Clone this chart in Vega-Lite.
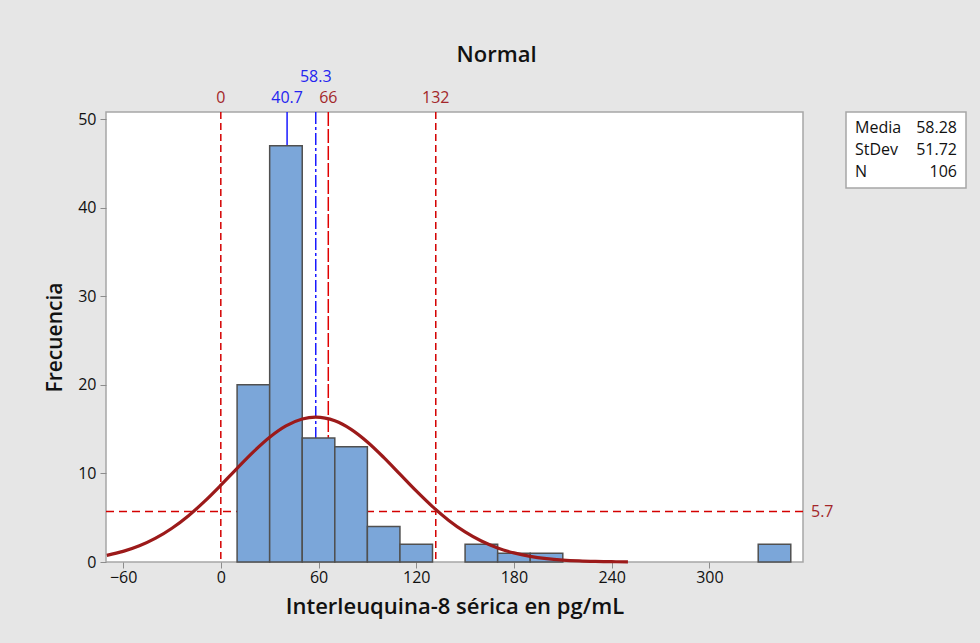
{
  "$schema": "https://vega.github.io/schema/vega-lite/v6.json",
  "background": "#e6e6e6",
  "autosize": {"type": "none"},
  "padding": {"left": 106, "top": 112, "right": 874, "bottom": 531},
  "bounds": "flush",
  "spacing": 43,
  "config": {
    "font": "Open Sans",
    "view": {"stroke": "#a6a6a6", "strokeWidth": 1.5, "fill": "white"},
    "axis": {
      "labelFont": "Open Sans", "labelFontSize": 16, "labelColor": "#111",
      "tickColor": "#8c8c8c", "tickSize": 6, "domain": false, "grid": false,
      "titleFont": "Open Sans", "titleFontSize": 21, "titleFontWeight": 600, "titleColor": "#111"
    }
  },
  "hconcat": [
    {
      "width": 697,
      "height": 450,
      "title": {"text": "Normal", "fontSize": 22, "fontWeight": 600, "dx": 42, "offset": 2, "color": "#111", "font": "Open Sans"},
      "layer": [
        {
          "data": {"values": [{"limit": 0}, {"limit": 132}]},
          "mark": {"type": "rule", "color": "#d40000", "strokeWidth": 1.5, "strokeDash": [7, 4]},
          "encoding": {
            "x": {"field": "limit", "type": "quantitative",
              "scale": {"domain": [-70.5, 357.5], "nice": false, "zero": false, "padding": 0},
              "axis": {"values": [-60, 0, 60, 120, 180, 240, 300], "title": "Interleuquina-8 sérica en pg/mL", "labelPadding": 1, "titlePadding": 11, "titleFontSize": 22}}
          }
        },
        {
          "data": {"values": [{"level": 5.7}]},
          "mark": {"type": "rule", "color": "#d40000", "strokeWidth": 1.5, "strokeDash": [8, 5]},
          "encoding": {
            "y": {"field": "level", "type": "quantitative",
              "scale": {"domain": [0, 50.8], "nice": false, "zero": true, "padding": 0},
              "axis": {"values": [0, 10, 20, 30, 40, 50], "title": "Frecuencia", "labelPadding": 4, "titlePadding": 12}}
          }
        },
        {
          "data": {"values": [{"target": 66}]},
          "mark": {"type": "rule", "color": "#e00000", "strokeWidth": 1.5, "strokeDash": [14, 3]},
          "encoding": {"x": {"field": "target", "type": "quantitative", "scale": {"domain": [-70.5, 357.5], "nice": false, "zero": false, "padding": 0}}}
        },
        {
          "data": {"values": [{"stat": 40.7}]},
          "mark": {"type": "rule", "color": "#1a1aff", "strokeWidth": 1.5},
          "encoding": {"x": {"field": "stat", "type": "quantitative", "scale": {"domain": [-70.5, 357.5], "nice": false, "zero": false, "padding": 0}}}
        },
        {
          "data": {"values": [{"stat": 58.3}]},
          "mark": {"type": "rule", "color": "#1a1aff", "strokeWidth": 1.5, "strokeDash": [12, 3, 3, 3]},
          "encoding": {"x": {"field": "stat", "type": "quantitative", "scale": {"domain": [-70.5, 357.5], "nice": false, "zero": false, "padding": 0}}}
        },
        {
          "data": {"values": [
            {"bin_start": 10, "bin_end": 30, "count": 20},
            {"bin_start": 30, "bin_end": 50, "count": 47},
            {"bin_start": 50, "bin_end": 70, "count": 14},
            {"bin_start": 70, "bin_end": 90, "count": 13},
            {"bin_start": 90, "bin_end": 110, "count": 4},
            {"bin_start": 110, "bin_end": 130, "count": 2},
            {"bin_start": 150, "bin_end": 170, "count": 2},
            {"bin_start": 170, "bin_end": 190, "count": 1},
            {"bin_start": 190, "bin_end": 210, "count": 1},
            {"bin_start": 330, "bin_end": 350, "count": 2}
          ]},
          "mark": {"type": "rect", "fill": "#7ba6d9", "stroke": "#505050", "strokeWidth": 1.5},
          "encoding": {
            "x": {"field": "bin_start", "type": "quantitative", "scale": {"domain": [-70.5, 357.5], "nice": false, "zero": false, "padding": 0}},
            "x2": {"field": "bin_end"},
            "y": {"field": "count", "type": "quantitative", "scale": {"domain": [0, 50.8], "nice": false, "zero": true, "padding": 0}},
            "y2": {"datum": 0}
          }
        },
        {
          "data": {"values": [
            {"x": -70, "density": 0.755}, {"x": -60, "density": 1.197}, {"x": -50, "density": 1.827},
            {"x": -40, "density": 2.688}, {"x": -30, "density": 3.810}, {"x": -20, "density": 5.201},
            {"x": -10, "density": 6.841}, {"x": 0, "density": 8.666}, {"x": 10, "density": 10.576},
            {"x": 20, "density": 12.433}, {"x": 30, "density": 14.081}, {"x": 40, "density": 15.361},
            {"x": 50, "density": 16.143}, {"x": 58.28, "density": 16.351}, {"x": 70, "density": 15.937},
            {"x": 80, "density": 14.971}, {"x": 90, "density": 13.548}, {"x": 100, "density": 11.810},
            {"x": 110, "density": 9.917}, {"x": 120, "density": 8.022}, {"x": 130, "density": 6.252},
            {"x": 140, "density": 4.693}, {"x": 150, "density": 3.394}, {"x": 160, "density": 2.364},
            {"x": 170, "density": 1.586}, {"x": 180, "density": 1.025}, {"x": 190, "density": 0.638},
            {"x": 200, "density": 0.383}, {"x": 210, "density": 0.221}, {"x": 220, "density": 0.123},
            {"x": 230, "density": 0.066}, {"x": 240, "density": 0.034}, {"x": 250, "density": 0.017}
          ]},
          "mark": {"type": "line", "color": "#9c1a1a", "strokeWidth": 3.2, "interpolate": "monotone"},
          "encoding": {
            "x": {"field": "x", "type": "quantitative", "scale": {"domain": [-70.5, 357.5], "nice": false, "zero": false, "padding": 0}},
            "y": {"field": "density", "type": "quantitative", "scale": {"domain": [0, 50.8], "nice": false, "zero": true, "padding": 0}}
          }
        },
        {
          "data": {"values": [{"x": 0, "label": "0"}, {"x": 66, "label": "66"}, {"x": 132, "label": "132"}]},
          "mark": {"type": "text", "color": "#a3262a", "fontSize": 16, "baseline": "middle", "align": "center"},
          "encoding": {
            "x": {"field": "x", "type": "quantitative", "scale": {"domain": [-70.5, 357.5], "nice": false, "zero": false, "padding": 0}},
            "y": {"datum": 52.4, "type": "quantitative", "scale": {"domain": [0, 50.8], "nice": false, "zero": true, "padding": 0}},
            "text": {"field": "label"}
          }
        },
        {
          "data": {"values": [{"x": 40.7, "label": "40.7"}]},
          "mark": {"type": "text", "color": "#2424f0", "fontSize": 16, "baseline": "middle", "align": "center"},
          "encoding": {
            "x": {"field": "x", "type": "quantitative", "scale": {"domain": [-70.5, 357.5], "nice": false, "zero": false, "padding": 0}},
            "y": {"datum": 52.4, "type": "quantitative", "scale": {"domain": [0, 50.8], "nice": false, "zero": true, "padding": 0}},
            "text": {"field": "label"}
          }
        },
        {
          "data": {"values": [{"x": 58.3, "label": "58.3"}]},
          "mark": {"type": "text", "color": "#2424f0", "fontSize": 16, "baseline": "middle", "align": "center"},
          "encoding": {
            "x": {"field": "x", "type": "quantitative", "scale": {"domain": [-70.5, 357.5], "nice": false, "zero": false, "padding": 0}},
            "y": {"datum": 54.75, "type": "quantitative", "scale": {"domain": [0, 50.8], "nice": false, "zero": true, "padding": 0}},
            "text": {"field": "label"}
          }
        },
        {
          "data": {"values": [{"level": 5.7, "label": "5.7"}]},
          "mark": {"type": "text", "color": "#a3262a", "fontSize": 16, "baseline": "middle", "align": "left", "dx": 8},
          "encoding": {
            "x": {"datum": 357.5, "type": "quantitative", "scale": {"domain": [-70.5, 357.5], "nice": false, "zero": false, "padding": 0}},
            "y": {"field": "level", "type": "quantitative", "scale": {"domain": [0, 50.8], "nice": false, "zero": true, "padding": 0}},
            "text": {"field": "label"}
          }
        }
      ]
    },
    {
      "width": 120,
      "height": 76,
      "data": {"values": [
        {"label": "Media", "value": "58.28"},
        {"label": "StDev", "value": "51.72"},
        {"label": "N", "value": "106"}
      ]},
      "layer": [
        {
          "mark": {"type": "text", "align": "left", "baseline": "middle", "fontSize": 16, "color": "#111", "dx": 9},
          "encoding": {
            "x": {"datum": 0, "type": "quantitative", "scale": {"domain": [0, 1]}, "axis": null},
            "y": {"field": "label", "type": "nominal", "sort": null, "scale": {"type": "point", "padding": 0.73}, "axis": null},
            "text": {"field": "label"}
          }
        },
        {
          "mark": {"type": "text", "align": "right", "baseline": "middle", "fontSize": 16, "color": "#111", "dx": -9},
          "encoding": {
            "x": {"datum": 1, "type": "quantitative", "scale": {"domain": [0, 1]}, "axis": null},
            "y": {"field": "label", "type": "nominal", "sort": null, "scale": {"type": "point", "padding": 0.73}, "axis": null},
            "text": {"field": "value"}
          }
        }
      ]
    }
  ]
}
